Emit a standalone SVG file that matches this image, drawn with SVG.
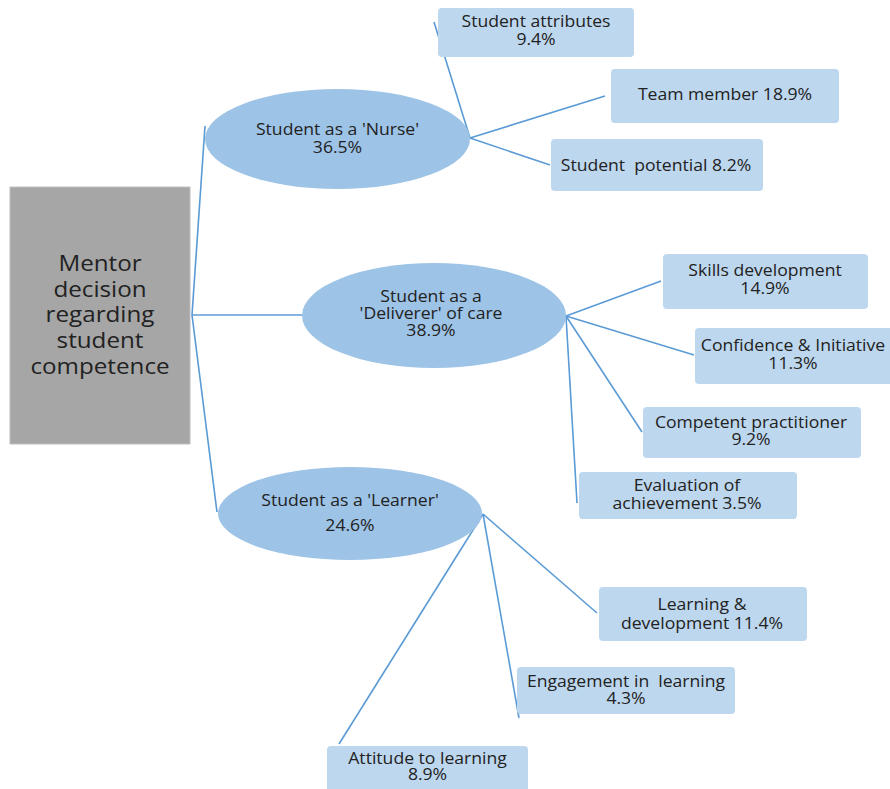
<svg xmlns="http://www.w3.org/2000/svg" width="890" height="789" viewBox="0 0 890 789">
<style>
.t{font-family:"Open Sans","Liberation Sans",sans-serif;font-size:16px;fill:#222;text-anchor:middle}
.m{font-family:"Open Sans","Liberation Sans",sans-serif;font-size:22px;fill:#222;text-anchor:middle}
.box{fill:#bdd7ee}
.ell{fill:#9dc3e6}
.ln{stroke:#5b9bd5;stroke-width:1.6;fill:none}
</style>
<rect width="890" height="789" fill="#fff"/>
<g id="connectors">
<polyline class="ln" points="205,126 192,315 217,512"/>
<line class="ln" x1="192" y1="315" x2="302" y2="315"/>
<line class="ln" x1="470" y1="138" x2="434" y2="22"/>
<line class="ln" x1="470" y1="138" x2="605" y2="96"/>
<line class="ln" x1="470" y1="138" x2="550" y2="165"/>
<line class="ln" x1="566" y1="316" x2="661" y2="281"/>
<line class="ln" x1="566" y1="316" x2="694" y2="355"/>
<line class="ln" x1="566" y1="316" x2="642" y2="432"/>
<line class="ln" x1="566" y1="316" x2="577" y2="503"/>
<line class="ln" x1="483" y1="514" x2="597" y2="613"/>
<line class="ln" x1="483" y1="514" x2="519" y2="718"/>
<line class="ln" x1="483" y1="514" x2="339" y2="744"/>
</g>
<g id="root">
<rect x="10" y="187" width="180" height="257" fill="#a6a6a6" stroke="#bfbfbf" stroke-width="1"/>
<text class="m" transform="translate(100 271) scale(1.1 1)">Mentor</text>
<text class="m" transform="translate(100 296.5) scale(1.1 1)">decision</text>
<text class="m" transform="translate(100 322) scale(1.1 1)">regarding</text>
<text class="m" transform="translate(100 348) scale(1.1 1)">student</text>
<text class="m" transform="translate(100 374) scale(1.1 1)">competence</text>
</g>
<g id="nurse">
<ellipse class="ell" cx="337.5" cy="139" rx="132.5" ry="50"/>
<text class="t" transform="translate(337.5 135) scale(1.1 1)">Student as a 'Nurse'</text>
<text class="t" transform="translate(337.5 153) scale(1.1 1)">36.5%</text>
</g>
<g id="deliverer">
<ellipse class="ell" cx="434" cy="315.5" rx="132" ry="52.5"/>
<text class="t" transform="translate(431 302) scale(1.1 1)">Student as a</text>
<text class="t" transform="translate(431 319) scale(1.1 1)">'Deliverer' of care</text>
<text class="t" transform="translate(431 336) scale(1.1 1)">38.9%</text>
</g>
<g id="learner">
<ellipse class="ell" cx="350" cy="513.5" rx="132" ry="46.5"/>
<text class="t" transform="translate(350 506) scale(1.1 1)">Student as a 'Learner'</text>
<text class="t" transform="translate(350 531) scale(1.1 1)">24.6%</text>
</g>
<g id="attributes">
<rect class="box" x="438" y="8" width="196" height="49" rx="4"/>
<text class="t" transform="translate(536 27) scale(1.1 1)">Student attributes</text>
<text class="t" transform="translate(536 45) scale(1.1 1)">9.4%</text>
</g>
<g id="team">
<rect class="box" x="611" y="69" width="228" height="54" rx="4"/>
<text class="t" transform="translate(725 100) scale(1.1 1)">Team member 18.9%</text>
</g>
<g id="potential">
<rect class="box" x="551" y="139" width="212" height="52" rx="4"/>
<text class="t" transform="translate(656 171) scale(1.1 1)" xml:space="preserve">Student  potential 8.2%</text>
</g>
<g id="skills">
<rect class="box" x="663" y="254" width="205" height="55" rx="4"/>
<text class="t" transform="translate(765 276) scale(1.1 1)">Skills development</text>
<text class="t" transform="translate(765 294) scale(1.1 1)">14.9%</text>
</g>
<g id="confidence">
<rect class="box" x="695" y="328" width="200" height="56" rx="4"/>
<text class="t" transform="translate(793 351) scale(1.1 1)">Confidence &amp; Initiative</text>
<text class="t" transform="translate(793 369) scale(1.1 1)">11.3%</text>
</g>
<g id="competent">
<rect class="box" x="643" y="407" width="218" height="51" rx="4"/>
<text class="t" transform="translate(751 428) scale(1.1 1)">Competent practitioner</text>
<text class="t" transform="translate(751 445) scale(1.1 1)">9.2%</text>
</g>
<g id="evaluation">
<rect class="box" x="579" y="472" width="218" height="47" rx="4"/>
<text class="t" transform="translate(687 491) scale(1.1 1)">Evaluation of</text>
<text class="t" transform="translate(687 509) scale(1.1 1)">achievement 3.5%</text>
</g>
<g id="learning">
<rect class="box" x="599" y="587" width="208" height="54" rx="4"/>
<text class="t" transform="translate(702 610) scale(1.1 1)">Learning &amp;</text>
<text class="t" transform="translate(702 629) scale(1.1 1)">development 11.4%</text>
</g>
<g id="engagement">
<rect class="box" x="517" y="667" width="218" height="47" rx="4"/>
<text class="t" transform="translate(626 687) scale(1.1 1)" xml:space="preserve">Engagement in  learning</text>
<text class="t" transform="translate(626 704) scale(1.1 1)">4.3%</text>
</g>
<g id="attitude">
<rect class="box" x="327" y="746" width="201" height="50" rx="4"/>
<text class="t" transform="translate(427.5 764) scale(1.1 1)">Attitude to learning</text>
<text class="t" transform="translate(427.5 780) scale(1.1 1)">8.9%</text>
</g>
</svg>
